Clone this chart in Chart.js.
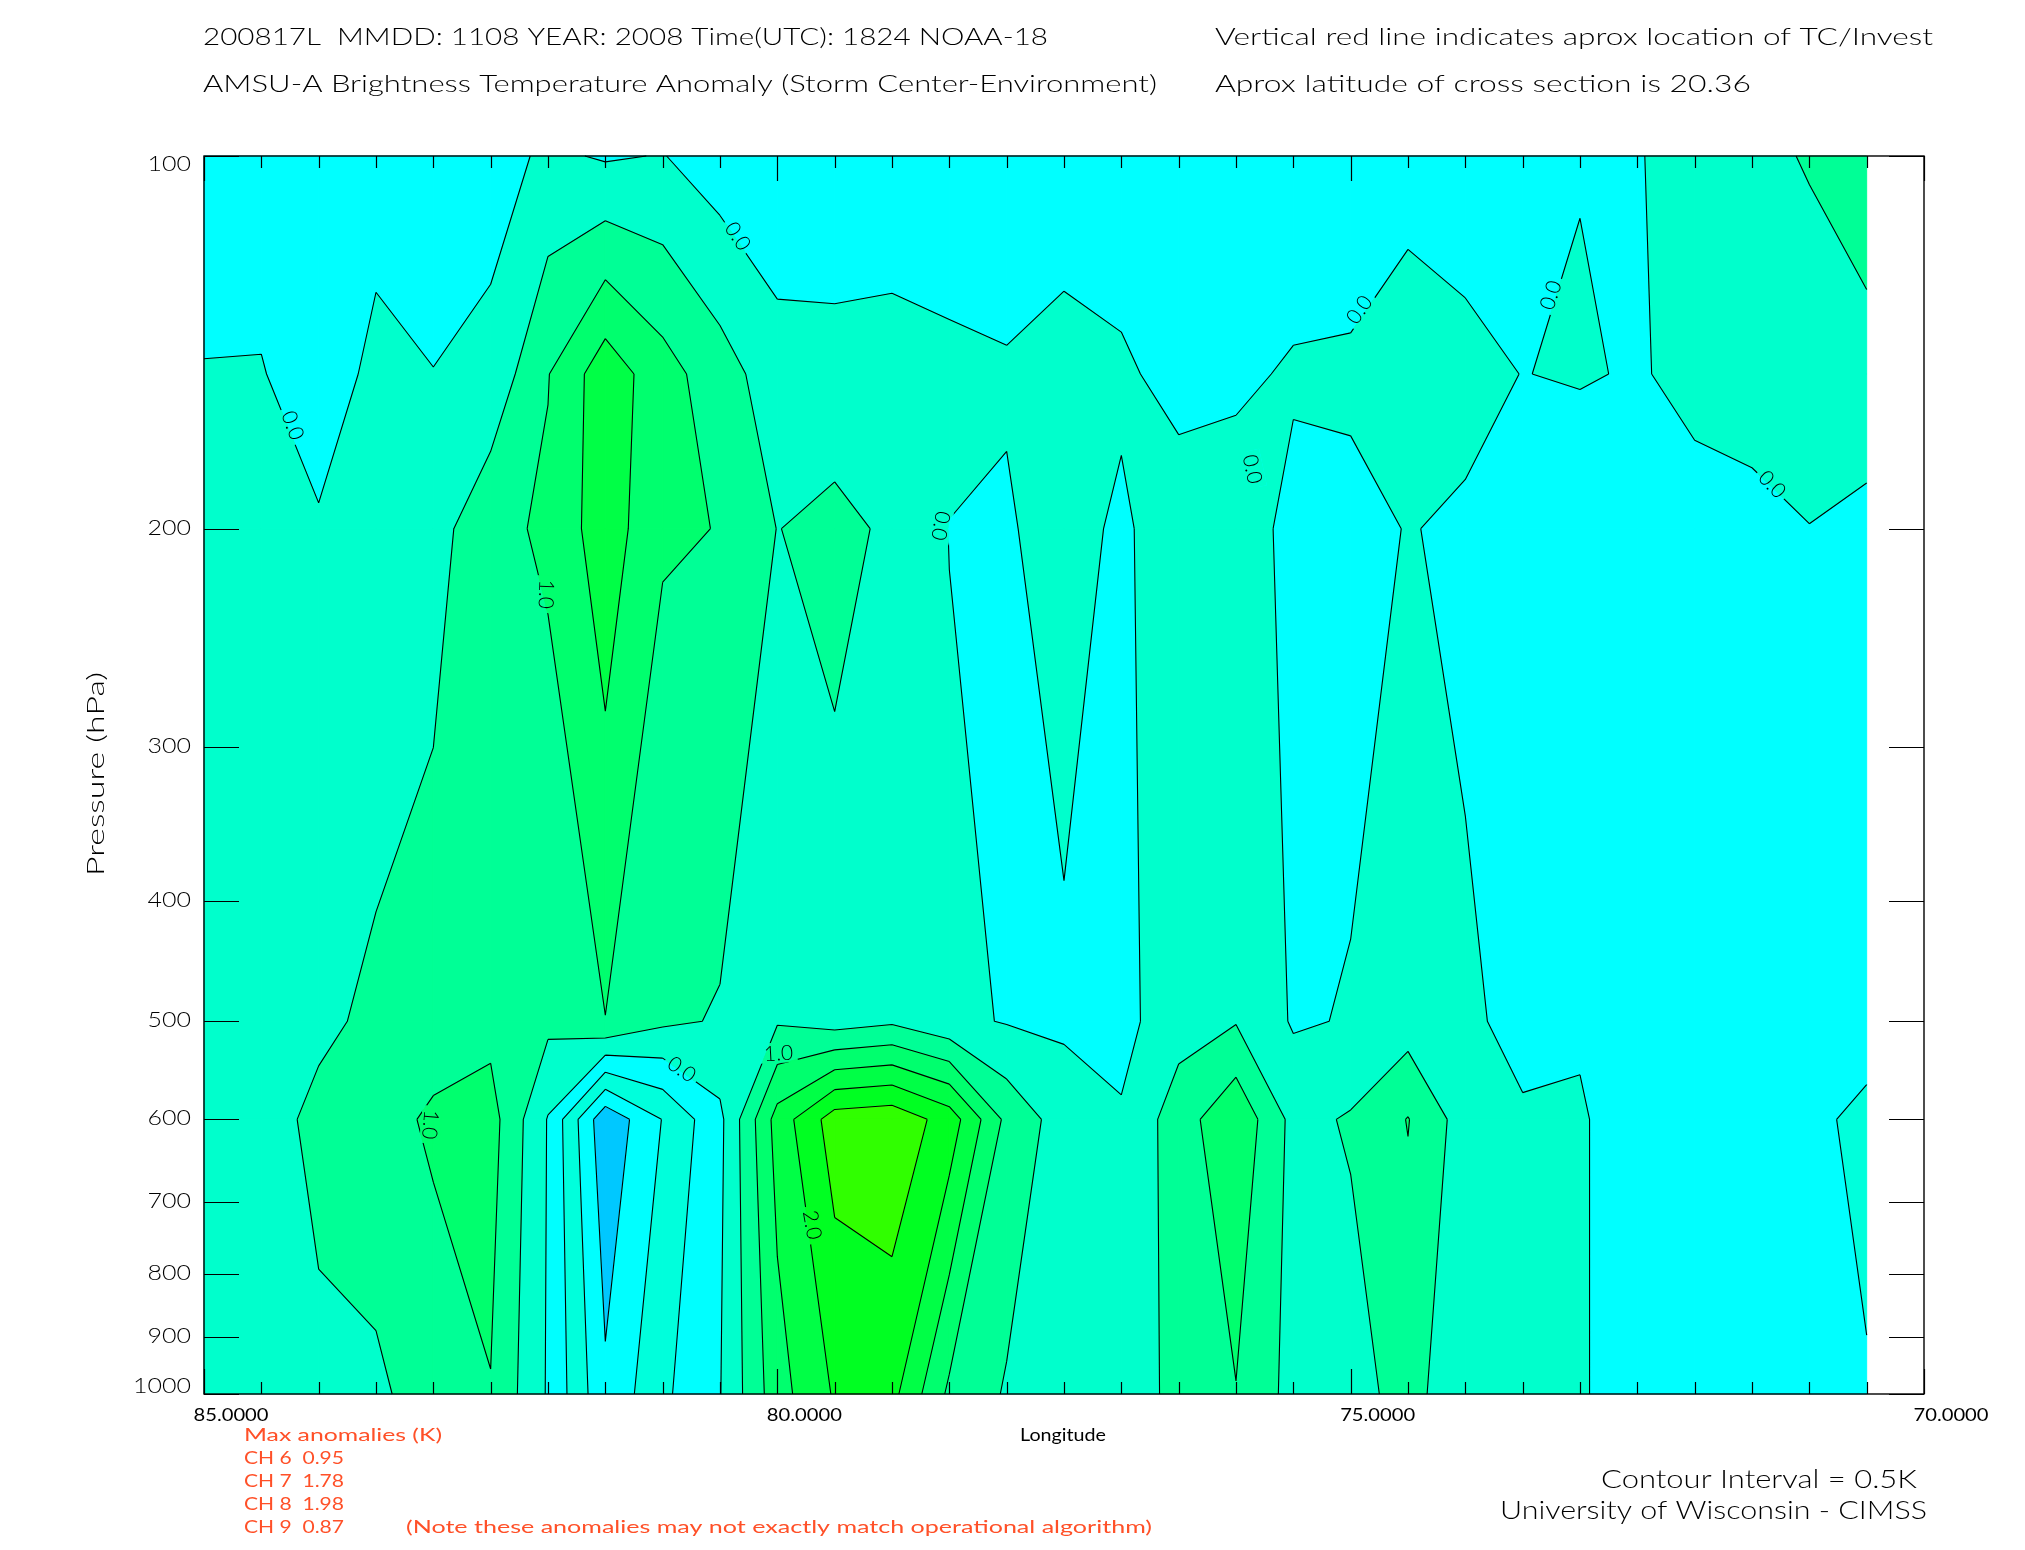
<!DOCTYPE html>
<html>
<head>
<meta charset="utf-8">
<title>AMSU-A Brightness Temperature Anomaly cross section</title>
<script src="https://cdn.jsdelivr.net/npm/chart.js@4.4.1/dist/chart.umd.min.js"></script>
<style>
  html, body { margin: 0; padding: 0; background: #fff; }
  #wrap { width: 2025px; height: 1550px; }
</style>
</head>
<body>
<div id="wrap"><canvas id="xsec" width="2025" height="1550"></canvas></div>
<script>
// grid columns (longitude, plotted 85 -> 70) and pressure levels (hPa)
const lons = [85.0, 84.5, 84.0, 83.5, 83.0, 82.5, 82.0, 81.5, 81.0, 80.5,
              80.0, 79.5, 79.0, 78.5, 78.0, 77.5, 77.0, 76.5, 76.0, 75.5,
              75.0, 74.5, 74.0, 73.5, 73.0, 72.5, 72.0, 71.5, 71.0, 70.5];
const pressures = [100, 150, 200, 500, 600, 1000];

// brightness temperature anomaly (K) on each level, west to east
const anom100  = [-0.40, -0.40, -0.30, -0.30, -0.30, -0.20, 0.09, -0.05, 0.02, -0.27,
                  -0.44, -0.42, -0.34, -0.45, -0.33, -0.49, -0.42, -0.30, -0.30, -0.33,
                  -0.43, -0.15, -0.28, -0.20, -0.02, -0.03, 0.20, 0.40, 0.53, 0.80];
const anom150  = [0.03, 0.04, -0.40, 0.18, 0.01, 0.14, 0.98, 1.80, 1.20, 0.72,
                  0.23, 0.20, 0.20, 0.15, 0.05, 0.30, 0.10, -0.20, -0.08, 0.05,
                  0.10, 0.20, 0.15, -0.01, 0.05, -0.05, 0.15, 0.20, 0.30, 0.31];
const anom200  = [0.20, 0.20, 0.08, 0.15, 0.30, 0.86, 1.08, 1.80, 1.05, 0.99,
                  0.49, 0.63, 0.42, -0.01, -0.05, 0.20, -0.09, 0.31, 0.22, -0.12,
                  -0.15, 0.02, -0.07, -0.15, -0.45, -0.30, -0.20, -0.13, -0.01, -0.13];
const anom500  = [0.30, 0.35, 0.40, 0.60, 0.75, 0.85, 0.62, 0.99, 0.59, 0.46,
                  0.45, 0.28, 0.42, 0.11, -0.03, -0.08, -0.15, 0.30, 0.47, -0.05,
                  0.03, 0.27, 0.05, -0.08, -0.06, -0.30, -0.30, -0.30, -0.30, -0.30];
const anom600  = [0.30, 0.30, 0.62, 0.80, 1.08, 1.20, -0.03, -1.88, -0.98, -0.12,
                  1.70, 2.75, 2.85, 2.28, 0.87, 0.26, 0.05, 0.76, 1.40, 0.35,
                  0.55, 1.02, 0.26, 0.03, 0.05, -0.25, -0.30, -0.30, -0.40, -0.61];
const anom1000 = [0.20, 0.30, 0.40, 0.41, 0.73, 0.98, -0.05, -1.41, -0.60, -0.02,
                  1.30, 2.05, 2.15, 0.90, 0.45, 0.30, 0.30, 0.60, 0.98, 0.33,
                  0.30, 0.70, 0.10, 0.10, 0.05, -0.25, -0.30, -0.30, -0.30, -0.47];
const grid = [anom100, anom150, anom200, anom500, anom600, anom1000];

// contour interval 0.5 K
const contourLevels = [-2.0, -1.5, -1.0, -0.5, 0.0, 0.5, 1.0, 1.5, 2.0, 2.5, 3.0];
const fillColors = ['rgb(0,200,255)', 'rgb(0,200,255)', 'rgb(0,255,255)', 'rgb(0,255,220)',
                    'rgb(0,255,255)', 'rgb(0,255,204)', 'rgb(0,255,150)', 'rgb(0,255,110)',
                    'rgb(0,255,70)', 'rgb(0,255,34)', 'rgb(48,255,0)', 'rgb(120,255,0)'];

const xTicks = [85, 80, 75, 70];
const yTicks = [100, 200, 300, 400, 500, 600, 700, 800, 900, 1000];

const maxAnomalies = [['CH 6', '0.95'], ['CH 7', '1.78'], ['CH 8', '1.98'], ['CH 9', '0.87']];

// where the contour labels sit (lon, hPa) and their slope
const contourLabels = [
  { lon: 84.22, p: 165, text: '0.0', angle: 69 },
  { lon: 82.01, p: 226, text: '1.0', angle: 92 },
  { lon: 80.34, p: 116, text: '0.0', angle: 56 },
  { lon: 78.57, p: 199, text: '0.0', angle: 100 },
  { lon: 74.93, p: 133, text: '0.0', angle: -55 },
  { lon: 75.85, p: 179, text: '0.0', angle: 78 },
  { lon: 73.26, p: 129.5, text: '0.0', angle: -72 },
  { lon: 71.32, p: 184, text: '0.0', angle: 46 },
  { lon: 83.02, p: 606, text: '1.0', angle: 95 },
  { lon: 80.83, p: 546, text: '0.0', angle: 34 },
  { lon: 79.99, p: 530, text: '1.0', angle: -3 },
  { lon: 79.69, p: 730, text: '2.0', angle: 80 }
];

const FONT = 'Lato, "DejaVu Sans", "Liberation Sans", sans-serif';

function bandOf(v) {
  let k = 0;
  while (k < contourLevels.length && v >= contourLevels[k]) k++;
  return k;
}

function clipPoly(poly, level, keepAbove) {
  const out = [];
  for (let i = 0; i < poly.length; i++) {
    const a = poly[i], b = poly[(i + 1) % poly.length];
    const ina = keepAbove ? a[2] >= level : a[2] < level;
    const inb = keepAbove ? b[2] >= level : b[2] < level;
    if (ina) out.push(a);
    if (ina !== inb) {
      const t = (level - a[2]) / (b[2] - a[2]);
      out.push([a[0] + t * (b[0] - a[0]), a[1] + t * (b[1] - a[1]), level]);
    }
  }
  return out;
}

function cellQuad(xs, ys, i, j) {
  return [[xs[i], ys[j], grid[j][i]], [xs[i + 1], ys[j], grid[j][i + 1]],
          [xs[i + 1], ys[j + 1], grid[j + 1][i + 1]], [xs[i], ys[j + 1], grid[j + 1][i]]];
}

function drawFill(ctx, xs, ys) {
  for (let j = 0; j < ys.length - 1; j++) {
    for (let i = 0; i < xs.length - 1; i++) {
      const quad = cellQuad(xs, ys, i, j);
      const vals = quad.map(q => q[2]);
      const b0 = bandOf(Math.min(...vals)), b1 = bandOf(Math.max(...vals));
      for (let k = b0; k <= b1; k++) {
        let poly = quad;
        if (k > 0) poly = clipPoly(poly, contourLevels[k - 1], true);
        if (k < contourLevels.length && poly.length) poly = clipPoly(poly, contourLevels[k], false);
        if (poly.length < 3) continue;
        ctx.beginPath();
        poly.forEach((p, n) => n ? ctx.lineTo(p[0], p[1]) : ctx.moveTo(p[0], p[1]));
        ctx.closePath();
        ctx.fillStyle = fillColors[k];
        ctx.fill();
        ctx.strokeStyle = fillColors[k];
        ctx.lineWidth = 1;
        ctx.stroke();
      }
    }
  }
}

function drawLines(ctx, xs, ys) {
  ctx.save();
  ctx.strokeStyle = '#000';
  ctx.lineWidth = 1.1;
  ctx.beginPath();
  const seg = (a, b) => { ctx.moveTo(a[0], a[1]); ctx.lineTo(b[0], b[1]); };
  for (let j = 0; j < ys.length - 1; j++) {
    for (let i = 0; i < xs.length - 1; i++) {
      const quad = cellQuad(xs, ys, i, j);
      contourLevels.forEach(L => {
        const c = [];
        for (let e = 0; e < 4; e++) {
          const a = quad[e], b = quad[(e + 1) % 4];
          if ((a[2] < L) !== (b[2] < L)) {
            const t = (L - a[2]) / (b[2] - a[2]);
            c.push([a[0] + t * (b[0] - a[0]), a[1] + t * (b[1] - a[1])]);
          }
        }
        if (c.length === 2) seg(c[0], c[1]);
        else if (c.length === 4) {
          if (quad[0][2] >= L) { seg(c[0], c[1]); seg(c[2], c[3]); }
          else { seg(c[3], c[0]); seg(c[1], c[2]); }
        }
      });
    }
  }
  ctx.stroke();
  ctx.restore();
}

function drawContourLabels(ctx, chart, xs, ys) {
  const sx = chart.scales.x, sy = chart.scales.y;
  ctx.font = '300 21px ' + FONT;
  contourLabels.forEach(lb => {
    const px = sx.getPixelForValue(lb.lon), py = sy.getPixelForValue(lb.p);
    const w = ctx.measureText(lb.text).width;
    // open a gap in the lines under the label by repainting the fill there
    ctx.save();
    ctx.translate(px, py);
    ctx.rotate(lb.angle * Math.PI / 180);
    ctx.beginPath();
    ctx.rect(-w / 2 - 4, -10, w + 8, 20);
    ctx.setTransform(1, 0, 0, 1, 0, 0);
    ctx.clip();
    drawFill(ctx, xs, ys);
    ctx.restore();

    ctx.save();
    ctx.translate(px, py);
    ctx.rotate(lb.angle * Math.PI / 180);
    ctx.font = '300 21px ' + FONT;
    ctx.fillStyle = '#000';
    ctx.textAlign = 'center';
    ctx.textBaseline = 'middle';
    ctx.fillText(lb.text, 0, 1);
    ctx.restore();
  });
}

function fitText(ctx, txt, x, y, opts) {
  ctx.save();
  const size = opts.size || 20;
  const weight = size <= 18 ? '400 ' : '300 ';
  ctx.font = weight + size + 'px ' + FONT;
  ctx.fillStyle = opts.color || '#000';
  ctx.textBaseline = opts.baseline || 'alphabetic';
  const w = ctx.measureText(txt).width;
  const k = opts.width ? opts.width / w : 1;
  let x0 = x;
  if (opts.align === 'right') x0 = x - w * k;
  else if (opts.align === 'center') x0 = x - w * k / 2;
  ctx.translate(x0, y);
  if (opts.rotate) ctx.rotate(opts.rotate);
  ctx.scale(k, 1);
  ctx.textAlign = 'left';
  ctx.fillText(txt, 0, 0);
  ctx.restore();
}

function drawAxes(ctx, chart) {
  const a = chart.chartArea, sx = chart.scales.x, sy = chart.scales.y;
  ctx.save();
  ctx.strokeStyle = '#000';
  ctx.lineWidth = 1.4;
  ctx.strokeRect(a.left, a.top, a.right - a.left, a.bottom - a.top);

  ctx.lineWidth = 1.2;
  ctx.beginPath();
  for (let n = 0; n <= 30; n++) {
    const lon = 85 - n * 0.5;
    const px = Math.round(sx.getPixelForValue(lon)) + 0.5;
    const len = (n % 10 === 0) ? 25 : 12;
    ctx.moveTo(px, a.bottom); ctx.lineTo(px, a.bottom - len);
    ctx.moveTo(px, a.top); ctx.lineTo(px, a.top + len);
  }
  yTicks.forEach(p => {
    const py = Math.round(sy.getPixelForValue(p)) + 0.5;
    ctx.moveTo(a.left, py); ctx.lineTo(a.left + 35, py);
    ctx.moveTo(a.right, py); ctx.lineTo(a.right - 35, py);
  });
  ctx.stroke();
  ctx.restore();

  // tick labels
  xTicks.forEach(lon => {
    fitText(ctx, lon.toFixed(4), sx.getPixelForValue(lon) + 27, 1421, { size: 17, width: 75, align: 'center' });
  });
  yTicks.forEach((p, n) => {
    let dy = 6;
    if (n === 0) dy = 15;
    if (n === yTicks.length - 1) dy = -1;
    fitText(ctx, String(p), 191, sy.getPixelForValue(p) + dy, { size: 22, width: String(p).length * 14.5, align: 'right' });
  });
  fitText(ctx, 'Longitude', 1063, 1441, { size: 17, width: 86, align: 'center' });
  fitText(ctx, 'Pressure (hPa)', 104, 876, { size: 24, width: 204, rotate: -Math.PI / 2 });
}

function drawTexts(ctx) {
  fitText(ctx, '200817L  MMDD: 1108 YEAR: 2008 Time(UTC): 1824 NOAA-18', 203, 45, { size: 24, width: 845 });
  fitText(ctx, 'Vertical red line indicates aprox location of TC/Invest', 1215, 45, { size: 24, width: 718 });
  fitText(ctx, 'AMSU-A Brightness Temperature Anomaly (Storm Center-Environment)', 203, 92, { size: 24, width: 954 });
  fitText(ctx, 'Aprox latitude of cross section is 20.36', 1215, 92, { size: 24, width: 536 });

  const red = 'rgb(255,80,40)';
  fitText(ctx, 'Max anomalies (K)', 244, 1441, { size: 17, width: 198, color: red });
  maxAnomalies.forEach((row, n) => {
    fitText(ctx, row[0] + '  ' + row[1], 244, 1464 + n * 23, { size: 17, width: 100, color: red });
  });
  fitText(ctx, '(Note these anomalies may not exactly match operational algorithm)', 406, 1533, { size: 17, width: 746, color: red });

  fitText(ctx, 'Contour Interval = 0.5K', 1917, 1488, { size: 26, width: 316, align: 'right' });
  fitText(ctx, 'University of Wisconsin - CIMSS', 1927, 1519, { size: 26, width: 427, align: 'right' });
}

const crossSection = {
  id: 'crossSection',
  beforeDraw(chart) {
    const ctx = chart.ctx;
    ctx.save();
    ctx.fillStyle = '#fff';
    ctx.fillRect(0, 0, chart.width, chart.height);
    ctx.restore();
  },
  afterDraw(chart) {
    const ctx = chart.ctx;
    const xs = lons.map(v => chart.scales.x.getPixelForValue(v));
    const ys = pressures.map(v => chart.scales.y.getPixelForValue(v));
    drawFill(ctx, xs, ys);
    drawLines(ctx, xs, ys);
    drawContourLabels(ctx, chart, xs, ys);
    drawAxes(ctx, chart);
    drawTexts(ctx);
  }
};

new Chart(document.getElementById('xsec'), {
  type: 'scatter',
  data: { datasets: [] },
  options: {
    responsive: false,
    animation: false,
    devicePixelRatio: 1,
    layout: { padding: { left: 204, right: 101, top: 156, bottom: 156 } },
    plugins: { legend: { display: false }, tooltip: { enabled: false } },
    scales: {
      x: { type: 'linear', min: 70, max: 85, reverse: true, display: false },
      y: { type: 'logarithmic', min: 100, max: 1000, reverse: true, display: false }
    }
  },
  plugins: [crossSection]
});
</script>
</body>
</html>
